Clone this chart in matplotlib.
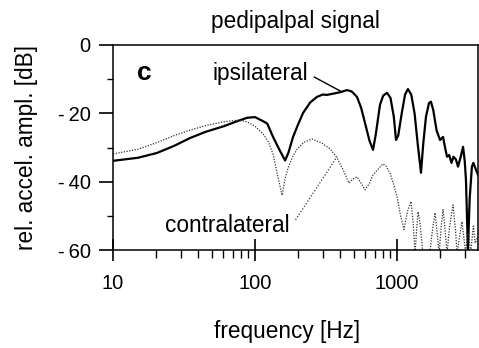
import matplotlib
matplotlib.use("Agg")
import matplotlib.pyplot as plt
from matplotlib.ticker import FixedLocator, NullFormatter

plt.rcParams['font.family'] = ['Liberation Sans', 'DejaVu Sans']

# ---- data ----
ipsi_freq = [10, 15, 20.4, 27, 35, 45, 60, 75, 88, 100, 114, 122, 134, 150, 163, 172,
             185, 200, 218, 245, 273, 300, 321, 350, 400, 445, 480, 523, 560, 595,
             640, 678, 710, 759, 800, 851, 900, 950, 984, 1020, 1080, 1140, 1194,
             1260, 1330, 1400, 1476, 1530, 1600, 1680, 1734, 1800, 1900, 2010, 2110,
             2180, 2250, 2330, 2420, 2500, 2600, 2690, 2800, 2920, 3000, 3060, 3160,
             3250, 3370, 3450, 3560, 3720]
ipsi_db = [-33.9, -33.0, -31.6, -29.5, -27.2, -25.4, -23.8, -22.3, -21.3, -21.1, -22.3,
           -23.0, -26.9, -31.0, -33.8, -31.5, -27.0, -23.5, -19.9, -16.8, -15.2, -14.5,
           -14.6, -14.3, -13.8, -13.2, -13.6, -15.2, -18.5, -22.8, -28.0, -30.7, -26.0,
           -17.5, -14.8, -14.0, -15.5, -21.0, -27.8, -26.5, -20.0, -14.5, -12.9, -14.5,
           -20.0, -29.0, -37.4, -29.0, -21.0, -17.0, -16.6, -19.0, -25.0, -27.8, -26.9,
           -30.0, -32.7, -32.2, -34.5, -32.7, -33.5, -35.6, -33.0, -29.8, -34.0, -39.5,
           -60.0, -45.0, -35.6, -34.5, -36.0, -38.0]

contra_freq = [10, 15, 20, 27, 35, 45, 60, 75, 85, 92, 100, 114, 125, 134, 145, 155,
               163, 171, 185, 198, 220, 252, 296, 340, 378, 417, 459, 490, 523, 560,
               595, 640, 678, 730, 796, 840, 893, 950, 1000, 1060, 1120, 1180, 1256,
               1300, 1340, 1370, 1406, 1450, 1524, 1600, 1700, 1780, 1855, 1920, 1980,
               2050, 2110, 2180, 2250, 2350, 2480, 2580, 2650, 2760, 2870, 2950, 3050,
               3120, 3200, 3300, 3450, 3550, 3720]
contra_db = [-31.9, -30.5, -28.7, -26.5, -24.9, -23.6, -22.5, -22.0, -22.3, -22.9, -23.8,
             -26.0, -28.5, -32.0, -38.5, -44.0, -39.0, -36.0, -32.5, -30.5, -28.5, -27.5,
             -28.7, -30.5, -33.0, -36.5, -40.4, -39.2, -38.6, -40.5, -42.4, -40.5, -38.0,
             -36.5, -34.8, -35.5, -37.5, -41.0, -44.4, -50.0, -54.0, -49.0, -45.8, -52.0,
             -61.0, -55.0, -48.8, -52.0, -61.0, -62.0, -61.0, -54.0, -49.1, -55.0, -61.0,
             -53.0, -48.2, -54.0, -61.0, -53.0, -46.8, -54.0, -61.0, -56.0, -51.7, -56.0,
             -61.0, -56.0, -55.0, -61.0, -53.0, -58.0, -56.0]

x_major = [10, 100, 1000]
x_major_labels = ["10", "100", "1000"]
x_minor = [20, 30, 40, 50, 60, 70, 80, 90, 200, 300, 400, 500, 600, 700, 800, 900,
           2000, 3000]
y_major = [0, -20, -40, -60]
y_major_labels = ["0", "-\u200920", "-\u200940", "-\u200960"]
y_minor = [-10, -30, -50]

# ---- figure ----
fig = plt.figure(figsize=(4.79, 3.48), dpi=100)
ax = fig.add_axes([113/479, 1-250/348, 365/479, 205/348])

ax.plot(ipsi_freq, ipsi_db, color='black', lw=1.6, solid_joinstyle='round')
ax.plot(contra_freq, contra_db, color='#333333', lw=0.9, linestyle=(0, (1, 1.2)))

ax.set_xscale('log')
ax.set_xlim(10, 3720)
ax.set_ylim(-60, 0)

ax.xaxis.set_major_locator(FixedLocator(x_major))
ax.set_xticklabels(x_major_labels)
ax.xaxis.set_minor_locator(FixedLocator(x_minor))
ax.xaxis.set_minor_formatter(NullFormatter())
ax.yaxis.set_major_locator(FixedLocator(y_major))
ax.set_yticklabels(y_major_labels)
ax.yaxis.set_minor_locator(FixedLocator(y_minor))

ax.tick_params(axis='x', which='major', direction='inout', length=16, width=1.2,
               pad=9, labelsize=14.5)
ax.tick_params(axis='x', which='minor', direction='out', length=6, width=1.0)
ax.tick_params(axis='y', which='major', direction='out', length=10, width=1.2,
               pad=6, labelsize=14.5)
ax.tick_params(axis='y', which='minor', direction='out', length=4.5, width=1.0)

for s in ax.spines.values():
    s.set_linewidth(1.1)

ax.set_title('pedipalpal signal', fontsize=16.3, pad=12)
ax.set_xlabel('frequency [Hz]', fontsize=16.3, labelpad=20)
ax.xaxis.label.set_x(0.477)
ax.set_ylabel('rel. accel. ampl. [dB]', fontsize=16.3, labelpad=14)

ax.text(0.066, 0.83, 'c', transform=ax.transAxes, fontsize=19, fontweight='heavy',
        ha='left', va='baseline')
ax.text(50, -10.3, 'ipsilateral', fontsize=16.3, ha='left', va='baseline')
ax.text(23.2, -54.7, 'contralateral', fontsize=16.3, ha='left', va='baseline')

# leader lines
ax.plot([262, 400], [-9.4, -13.5], color='black', lw=1.0)
ax.plot([193, 378], [-51.2, -32.7], color='#333333', lw=0.9, linestyle=(0, (1, 1.5)))

fig.savefig('out.png', dpi=100)
